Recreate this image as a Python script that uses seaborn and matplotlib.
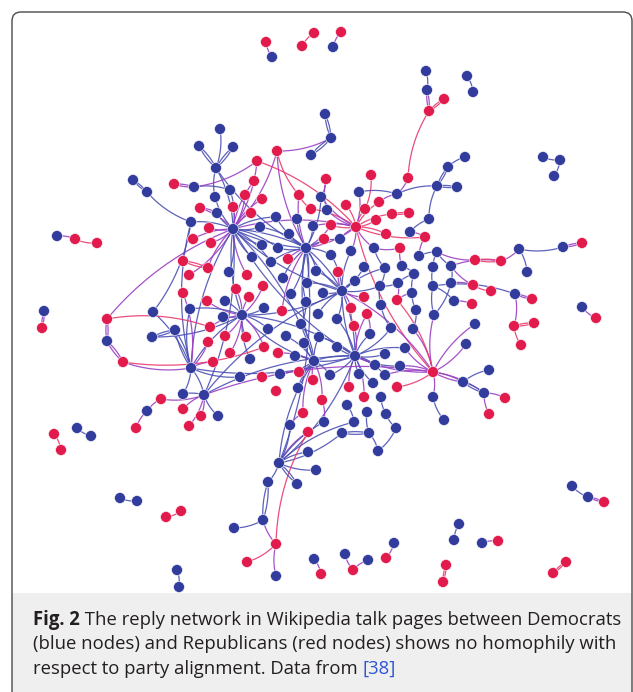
import numpy as np
import pandas as pd
import matplotlib
matplotlib.use("Agg")
import matplotlib.pyplot as plt
from matplotlib.patches import FancyBboxPatch, Rectangle
from matplotlib.collections import LineCollection
import seaborn as sns

# ---- editors: (x, y, party) in layout coordinates; D = Democrat, R = Republican ----
north_nodes = [
    (266, 42, "R"), (272, 57, "D"), (302, 46, "R"), (314, 33, "R"), (341, 32, "R"),
    (333, 47, "D"), (426, 71, "D"), (427, 90, "D"), (444, 99, "R"), (429, 111, "R"),
    (467, 76, "D"), (473, 92, "D"), (543, 157, "D"), (560, 160, "D"), (554, 176, "D"),
    (465, 157, "D"), (448, 167, "D"), (437, 186, "D"), (457, 187, "D"), (408, 178, "R"),
    (397, 194, "D"), (379, 202, "R"), (325, 114, "D"), (331, 138, "D"), (311, 155, "D"),
    (277, 151, "R"), (257, 161, "R"),
]
northwest_nodes = [
    (220, 129, "D"), (199, 146, "D"), (233, 147, "D"), (216, 168, "D"), (254, 181, "R"),
    (133, 180, "D"), (147, 192, "D"), (174, 184, "R"), (194, 187, "D"), (230, 190, "D"),
    (245, 195, "R"), (262, 199, "R"), (215, 197, "D"), (200, 208, "R"), (217, 213, "D"),
    (233, 207, "R"), (251, 213, "R"), (191, 222, "D"), (209, 228, "R"), (233, 229, "D"),
    (260, 227, "D"), (276, 217, "D"), (193, 239, "R"), (211, 243, "R"), (262, 245, "D"),
    (278, 248, "D"), (252, 257, "D"), (271, 262, "D"), (183, 261, "R"), (208, 268, "R"),
    (229, 272, "D"), (247, 275, "R"), (189, 275, "R"),
]
core_nodes = [
    (326, 179, "R"), (371, 175, "R"), (359, 192, "D"), (299, 195, "R"), (321, 197, "D"),
    (346, 205, "R"), (365, 209, "R"), (392, 214, "R"), (409, 213, "R"), (311, 209, "R"),
    (327, 210, "D"), (297, 219, "D"), (313, 226, "D"), (331, 225, "R"), (356, 227, "R"),
    (376, 220, "R"), (429, 219, "D"), (289, 234, "D"), (324, 239, "R"), (340, 239, "D"),
    (386, 234, "R"), (410, 232, "D"), (425, 237, "R"), (306, 248, "D"), (351, 251, "D"),
    (400, 248, "R"), (331, 255, "D"), (374, 248, "D"), (419, 256, "D"), (437, 252, "D"),
    (288, 259, "R"), (364, 267, "D"), (385, 268, "D"), (402, 266, "D"), (338, 272, "R"),
    (316, 271, "D"), (433, 267, "D"), (283, 278, "D"), (451, 266, "D"), (414, 274, "D"),
    (355, 281, "D"), (307, 283, "D"), (342, 291, "D"), (380, 286, "D"), (398, 283, "D"),
    (433, 286, "D"), (451, 283, "D"), (291, 294, "D"), (323, 293, "D"), (364, 297, "R"),
    (397, 300, "R"), (412, 293, "D"), (306, 302, "D"), (282, 311, "R"), (351, 308, "R"),
    (367, 314, "R"), (318, 314, "D"), (337, 319, "D"), (381, 305, "D"), (416, 310, "D"),
    (434, 315, "D"), (301, 324, "D"), (354, 326, "R"), (391, 328, "D"), (370, 334, "D"),
    (413, 329, "D"), (286, 336, "D"), (319, 337, "D"), (304, 343, "D"), (337, 347, "D"),
    (385, 354, "D"), (405, 348, "D"), (355, 356, "D"), (278, 353, "R"), (295, 356, "D"),
    (314, 361, "D"), (375, 365, "D"), (400, 366, "D"), (299, 372, "R"), (313, 380, "R"),
    (330, 375, "D"), (359, 374, "D"), (385, 375, "D"), (433, 372, "R"), (280, 374, "D"),
    (276, 391, "R"), (298, 388, "D"), (322, 400, "R"), (349, 387, "R"), (373, 383, "D"),
    (397, 387, "R"), (364, 397, "R"), (381, 397, "D"), (433, 397, "D"), (347, 405, "D"),
    (303, 413, "R"), (367, 412, "D"), (386, 414, "D"), (290, 425, "D"), (324, 422, "D"),
    (354, 422, "D"), (444, 420, "D"), (396, 428, "D"),
]
west_nodes = [
    (263, 286, "R"), (183, 293, "R"), (236, 289, "R"), (249, 297, "R"), (207, 301, "R"),
    (225, 301, "D"), (190, 309, "D"), (153, 312, "D"), (223, 317, "D"), (242, 315, "D"),
    (264, 308, "D"), (107, 319, "R"), (175, 330, "D"), (152, 337, "D"), (210, 327, "R"),
    (225, 336, "R"), (246, 337, "R"), (268, 329, "D"), (107, 341, "D"), (208, 342, "R"),
    (264, 347, "R"), (230, 353, "R"), (250, 359, "D"), (123, 362, "R"), (213, 362, "R"),
    (191, 368, "D"), (262, 377, "R"), (240, 377, "D"), (183, 394, "D"), (204, 395, "D"),
    (161, 399, "R"), (147, 411, "D"), (183, 409, "R"), (201, 416, "R"), (218, 416, "D"),
    (136, 428, "R"), (189, 426, "R"),
]
south_nodes = [
    (308, 432, "R"), (342, 433, "D"), (369, 433, "D"), (378, 451, "D"), (308, 452, "D"),
    (316, 470, "D"), (279, 463, "D"), (268, 482, "D"), (297, 484, "D"), (137, 501, "D"),
    (120, 498, "D"), (166, 517, "R"), (181, 511, "R"), (263, 520, "D"), (234, 528, "D"),
    (276, 544, "R"), (247, 562, "R"), (276, 576, "D"), (177, 570, "D"), (179, 587, "D"),
    (314, 559, "D"), (321, 574, "R"), (345, 554, "D"), (353, 570, "R"), (368, 560, "D"),
    (386, 558, "R"), (394, 543, "D"),
]
far_west_nodes = [
    (57, 236, "D"), (75, 239, "R"), (97, 243, "R"), (44, 311, "D"), (42, 328, "R"),
    (54, 434, "R"), (61, 450, "R"), (77, 428, "D"), (91, 436, "D"),
]
southeast_nodes = [
    (463, 382, "D"), (484, 393, "D"), (505, 398, "R"), (489, 414, "R"), (572, 486, "D"),
    (588, 497, "D"), (604, 502, "R"), (459, 524, "D"), (454, 540, "D"), (482, 543, "D"),
    (498, 541, "R"), (446, 565, "R"), (443, 582, "R"), (566, 562, "R"), (553, 573, "R"),
]
east_nodes = [
    (475, 260, "R"), (501, 261, "R"), (519, 249, "D"), (563, 247, "D"), (582, 243, "R"),
    (527, 272, "D"), (473, 285, "R"), (491, 291, "R"), (454, 301, "D"), (472, 304, "R"),
    (515, 294, "D"), (532, 299, "R"), (582, 307, "D"), (596, 318, "R"), (475, 324, "D"),
    (514, 326, "R"), (534, 323, "R"), (521, 345, "R"), (466, 344, "D"), (489, 370, "D"),
]

# ---- replies between editors (indices into the combined node table) ----
mutual_replies = [
    (7, 9), (8, 9), (16, 17), (17, 18), (22, 23), (23, 24), (28, 30), (29, 30), (32, 33),
    (34, 35), (251, 252), (254, 255), (266, 267), (241, 242), (236, 237), (247, 248),
    (249, 250), (230, 231), (174, 181), (181, 186), (175, 176), (175, 188), (207, 213),
    (201, 202), (261, 262), (236, 143), (46, 83), (83, 102), (102, 132), (132, 135),
    (206, 208), (67, 68), (55, 56),
]
single_replies = [
    (0, 1), (2, 3), (4, 5), (6, 7), (9, 19), (19, 20), (20, 21), (20, 17), (17, 76),
    (10, 11), (12, 13), (13, 14), (15, 16),
    (27, 30), (30, 39), (30, 46), (30, 83), (23, 25), (25, 63), (25, 46), (25, 83),
    (26, 46), (31, 46), (26, 74), (33, 44), (35, 36), (35, 26), (36, 46), (39, 46),
    (37, 46), (38, 46), (40, 41), (41, 46), (42, 46), (43, 46), (44, 46), (45, 46),
    (47, 46), (48, 46), (49, 46), (50, 46), (51, 46), (52, 46), (53, 46), (54, 46),
    (56, 46), (57, 46), (58, 46), (59, 46), (40, 46),
    (46, 102), (46, 74), (46, 172), (46, 192), (46, 188), (46, 135), (46, 132),
    (174, 46), (44, 188), (44, 170),
    (60, 70), (61, 66), (66, 74), (65, 74), (67, 74), (75, 74), (73, 74), (79, 74),
    (80, 74), (87, 74), (84, 74), (72, 74), (70, 74), (62, 74), (63, 69), (69, 74),
    (74, 143), (74, 21), (74, 82), (62, 20), (64, 74), (60, 64),
    (71, 83), (72, 83), (77, 83), (78, 83), (52, 83), (54, 83), (86, 83), (90, 83),
    (95, 83), (97, 83), (101, 83), (47, 83), (48, 83), (64, 83), (63, 83), (73, 83),
    (79, 83), (113, 83), (107, 83), (112, 83), (83, 135), (83, 206), (83, 74),
    (91, 102), (94, 102), (95, 102), (100, 102), (101, 102), (108, 102), (109, 102),
    (114, 102), (116, 102), (117, 102), (86, 102), (84, 102), (103, 102), (92, 102),
    (102, 143), (102, 192), (102, 172),
    (76, 81), (81, 82), (82, 88), (88, 89), (89, 98), (93, 99), (96, 105), (98, 106),
    (99, 104), (104, 110), (105, 120), (106, 120), (111, 119), (112, 121), (118, 123),
    (119, 125), (111, 110), (104, 103), (85, 93), (85, 87), (87, 92), (92, 103),
    (103, 118), (115, 124), (114, 122), (96, 89), (99, 111),
    (122, 132), (124, 132), (127, 132), (129, 132), (130, 132), (136, 132), (141, 132),
    (140, 132), (148, 132), (151, 132), (123, 132), (131, 132), (137, 132), (142, 132),
    (149, 132), (115, 132), (117, 132), (132, 143), (132, 206), (132, 192),
    (126, 135), (128, 135), (134, 135), (138, 135), (139, 135), (140, 135), (121, 135),
    (127, 135), (146, 135), (147, 135), (155, 135), (144, 135), (133, 135), (135, 206),
    (135, 172),
    (120, 143), (125, 143), (131, 143), (137, 143), (153, 143), (161, 153), (237, 143),
    (269, 143), (265, 143), (110, 143), (150, 143), (142, 143), (270, 236), (237, 238),
    (237, 239),
    (165, 172), (166, 172), (168, 172), (171, 172), (173, 172), (178, 172), (179, 172),
    (180, 172), (163, 172), (167, 172), (177, 172), (184, 172), (185, 172), (183, 172),
    (169, 172), (172, 188), (172, 132), (176, 172),
    (182, 188), (187, 188), (190, 188), (191, 188), (188, 192), (186, 188), (164, 188),
    (169, 188), (170, 188), (188, 132),
    (191, 192), (193, 192), (195, 192), (196, 192), (197, 192), (199, 192), (194, 193),
    (194, 198), (192, 143),
    (204, 206), (205, 206), (207, 206), (201, 206), (200, 206), (158, 206), (159, 206),
    (213, 214), (213, 215), (215, 216), (215, 217), (215, 200), (160, 206), (154, 160),
    (157, 162), (202, 203), (152, 157), (147, 159), (155, 158), (162, 203), (156, 202),
    (220, 221), (222, 223), (223, 224), (225, 226), (218, 219), (211, 212), (209, 210),
    (243, 244), (245, 246), (240, 241),
    (227, 228), (228, 229), (232, 233), (234, 235), (174, 177), (186, 183),
    (253, 252), (253, 254), (253, 256), (252, 98), (251, 89), (257, 258), (257, 98),
    (257, 106), (259, 260), (261, 105), (261, 266), (263, 264), (268, 266), (259, 105),
]

caption_line1_bold = "Fig. 2"
caption_line1 = " The reply network in Wikipedia talk pages between Democrats"
caption_line2 = "(blue nodes) and Republicans (red nodes) shows no homophily with"
caption_line3 = "respect to party alignment. Data from "
caption_ref = "[38]"

# ---- assemble tables ----
nodes = pd.DataFrame(
    north_nodes + northwest_nodes + core_nodes + west_nodes + south_nodes
    + far_west_nodes + southeast_nodes + east_nodes,
    columns=["x", "y", "party"],
)

party_colors = {"D": "#323c9c", "R": "#e11b4b"}
edge_colors = {"DD": "#4c50b4", "RR": "#e93a6e", "DR": "#9a3fc2", "RD": "#9a3fc2"}

sns.set_theme(style="white")
plt.rcParams["font.family"] = ["Open Sans", "DejaVu Sans"]

W, H = 633, 692
fig = plt.figure(figsize=(W / 100, H / 100), dpi=100)
ax = fig.add_axes([0, 0, 1, 1])
ax.set_xlim(0, W)
ax.set_ylim(H, 0)
ax.axis("off")

# figure frame and caption panel
ax.add_patch(Rectangle((12, 593), 620, 120, facecolor="#efefef", edgecolor="none", zorder=0))
ax.add_patch(FancyBboxPatch((12, 12), 620, 720, boxstyle="round,pad=0,rounding_size=9",
                            facecolor="none", edgecolor="#4a4a4a", linewidth=1.0, zorder=1))


def arc(p, q, bend, n=24):
    p = np.asarray(p, float)
    q = np.asarray(q, float)
    d = q - p
    ctrl = (p + q) / 2 + bend * np.array([-d[1], d[0]])
    t = np.linspace(0, 1, n)[:, None]
    return (1 - t) ** 2 * p + 2 * (1 - t) * t * ctrl + t ** 2 * q


segments, colors = [], []
xy = nodes[["x", "y"]].to_numpy()
parties = nodes["party"].to_numpy()
for k, (i, j) in enumerate(single_replies):
    bend = 0.13 if k % 2 == 0 else -0.13
    segments.append(arc(xy[i], xy[j], bend))
    colors.append(edge_colors[parties[i] + parties[j]])
for i, j in mutual_replies:
    for bend in (0.1, -0.1):
        segments.append(arc(xy[i], xy[j], bend))
        colors.append(edge_colors[parties[i] + parties[j]])

ax.add_collection(LineCollection(segments, colors=colors, linewidths=0.9,
                                 alpha=0.9, zorder=2, capstyle="round"))

sns.scatterplot(data=nodes, x="x", y="y", hue="party", palette=party_colors,
                s=62, edgecolor="white", linewidth=0.4, legend=False, zorder=3, ax=ax)
ax.set_xlim(0, W)
ax.set_ylim(H, 0)
ax.axis("off")

# caption, sized so that the first line spans the panel
text_color = "#231f20"
x0 = 33
probe = ax.text(0, 0, caption_line1_bold + caption_line1, fontsize=12)
fig.canvas.draw()
renderer = fig.canvas.get_renderer()
w12 = probe.get_window_extent(renderer).width
probe.remove()
fs = 12 * 583 / w12

t_bold = ax.text(x0, 625, caption_line1_bold, fontsize=fs, fontweight="bold",
                 color=text_color, va="baseline")
fig.canvas.draw()
xb = t_bold.get_window_extent(renderer).x1
ax.text(xb, 625, caption_line1, fontsize=fs, color=text_color, va="baseline")
ax.text(x0, 649, caption_line2, fontsize=fs, color=text_color, va="baseline")
t3 = ax.text(x0, 674, caption_line3, fontsize=fs, color=text_color, va="baseline")
fig.canvas.draw()
x3 = t3.get_window_extent(renderer).x1
ax.text(x3, 674, caption_ref, fontsize=fs, color="#2f55d4", va="baseline")

fig.savefig("out.png", dpi=100)
